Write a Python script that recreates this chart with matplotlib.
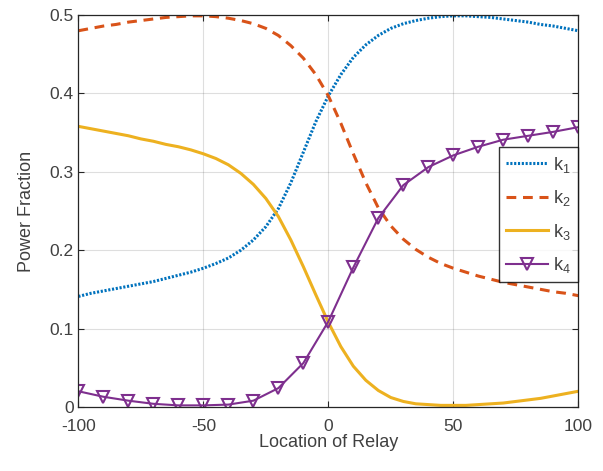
import matplotlib.pyplot as plt
import numpy as np

# relay location (smooth curves sampled every 5, k4 every 10)
x_fine = list(range(-100, 101, 5))
x_coarse = list(range(-100, 101, 10))

k1 = [0.141, 0.145, 0.148, 0.151, 0.154, 0.157, 0.160, 0.164, 0.168, 0.172,
      0.177, 0.183, 0.190, 0.200, 0.213, 0.230, 0.253, 0.286, 0.325, 0.364,
      0.397, 0.424, 0.446, 0.462, 0.474, 0.483, 0.489, 0.493, 0.496, 0.498,
      0.499, 0.499, 0.498, 0.497, 0.495, 0.493, 0.491, 0.488, 0.486, 0.483,
      0.480]
k2 = [0.480, 0.483, 0.486, 0.488, 0.491, 0.493, 0.495, 0.497, 0.498, 0.499,
      0.499, 0.498, 0.496, 0.493, 0.489, 0.483, 0.474, 0.461, 0.445, 0.424,
      0.397, 0.362, 0.323, 0.286, 0.254, 0.231, 0.214, 0.201, 0.191, 0.183,
      0.177, 0.172, 0.167, 0.163, 0.159, 0.156, 0.153, 0.150, 0.147, 0.145,
      0.142]
k3 = [0.358, 0.355, 0.352, 0.349, 0.346, 0.342, 0.339, 0.335, 0.332, 0.328,
      0.323, 0.317, 0.309, 0.298, 0.284, 0.266, 0.243, 0.213, 0.179, 0.143,
      0.108, 0.077, 0.052, 0.034, 0.021, 0.012, 0.007, 0.004, 0.003, 0.002,
      0.002, 0.002, 0.003, 0.004, 0.005, 0.007, 0.009, 0.011, 0.014, 0.017,
      0.020]
k4 = [0.020, 0.013, 0.008, 0.004, 0.002, 0.002, 0.003, 0.008, 0.024, 0.056,
      0.109, 0.178, 0.241, 0.283, 0.306, 0.321, 0.332, 0.341, 0.346, 0.351,
      0.357]

labels = [r'$\mathregular{k_1}$', r'$\mathregular{k_2}$',
          r'$\mathregular{k_3}$', r'$\mathregular{k_4}$']

plt.rcParams['font.family'] = ['Liberation Sans', 'DejaVu Sans']
plt.rcParams['mathtext.fontset'] = 'custom'
plt.rcParams['mathtext.rm'] = 'Liberation Sans'
plt.rcParams['axes.unicode_minus'] = False

fig = plt.figure(figsize=(6.03, 4.71), dpi=100)
ax = fig.add_axes([0.130, 0.136, 0.829, 0.832])

ax.plot(x_fine, k1, color='#0072BD', lw=2.2, linestyle=(0, (0.7, 0.55)),
        label=labels[0])
ax.plot(x_fine, k2, color='#D95319', lw=2.2, linestyle=(0, (3.2, 2.2)),
        label=labels[1])
ax.plot(x_fine, k3, color='#EDB120', lw=2.2, label=labels[2])
ax.plot(x_coarse, k4, color='#7E2F8E', lw=1.5, marker='v', ms=8,
        mfc='none', mew=1.5, label=labels[3])

ax.set_xlim(-100, 100)
ax.set_ylim(0, 0.5)
ax.set_xticks([-100, -50, 0, 50, 100])
ax.set_yticks([0, 0.1, 0.2, 0.3, 0.4, 0.5])
ax.set_yticklabels(['0', '0.1', '0.2', '0.3', '0.4', '0.5'])
ax.grid(True, color='#262626', alpha=0.15, lw=0.8)
ax.tick_params(direction='in', top=True, right=True, length=4,
               width=0.8, colors='#262626', labelsize=12.5, labelcolor='#404040')
ax.tick_params(axis='x', pad=9)
for s in ax.spines.values():
    s.set_color('#262626')
    s.set_linewidth(0.9)

ax.set_xlabel('Location of Relay', fontsize=13, color='#404040', labelpad=0)
ax.set_ylabel('Power Fraction', fontsize=13, color='#404040', labelpad=10)

leg = ax.legend(loc='center right', bbox_to_anchor=(1.0, 0.49), fontsize=13,
                frameon=True, fancybox=False, edgecolor='#000000',
                borderaxespad=0, handlelength=2.3, labelspacing=0.75,
                handletextpad=0.3, borderpad=0.4)
leg.get_frame().set_linewidth(1.0)
for t in leg.get_texts():
    t.set_color('#404040')

fig.savefig('out.png', dpi=100)
